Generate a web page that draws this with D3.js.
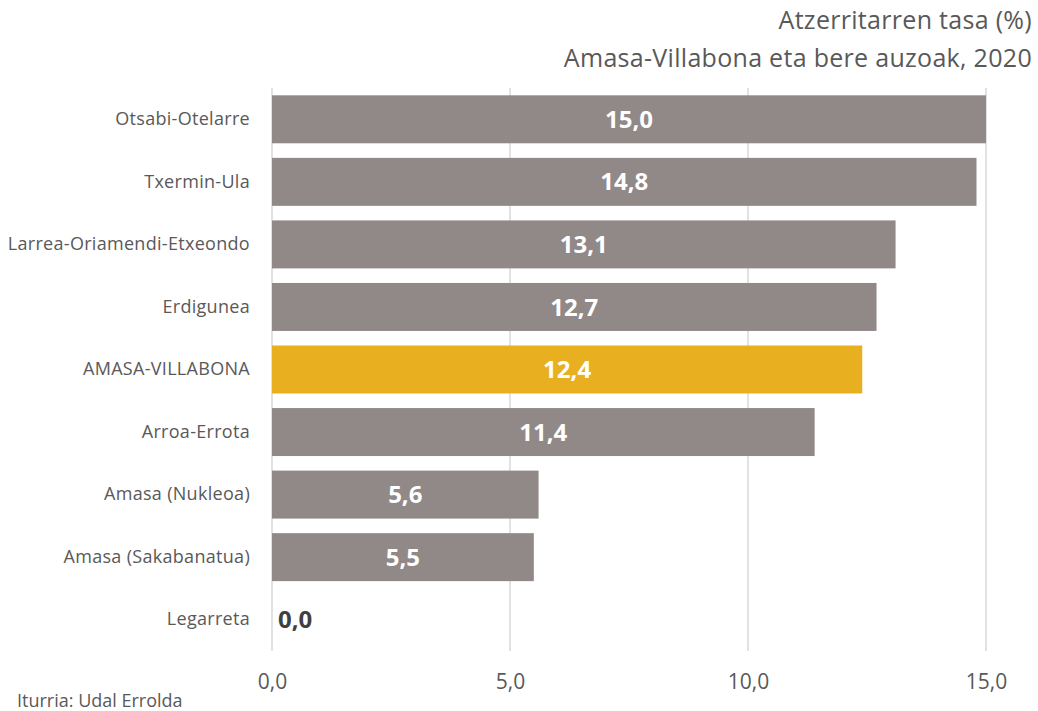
<!DOCTYPE html>
<html>
<head>
<meta charset="utf-8">
<script src="https://cdn.jsdelivr.net/npm/d3@7"></script>
<style>
  body { margin: 0; background: #fff; }
  text { font-family: "Open Sans", "DejaVu Sans", sans-serif; }
</style>
</head>
<body>
<div id="chart"></div>
<script>
// data
var categories = ["Otsabi-Otelarre", "Txermin-Ula", "Larrea-Oriamendi-Etxeondo", "Erdigunea",
                  "AMASA-VILLABONA", "Arroa-Errota", "Amasa (Nukleoa)", "Amasa (Sakabanatua)", "Legarreta"];
var values = [15.0, 14.8, 13.1, 12.7, 12.4, 11.4, 5.6, 5.5, 0.0];
var highlight = "AMASA-VILLABONA";
var xTicks = [0, 5, 10, 15];
var titleLines = ["Atzerritarren tasa (%)", "Amasa-Villabona eta bere auzoak, 2020"];
var source = "Iturria: Udal Errolda";

var W = 1038, H = 711;
var fmt = function(v) { return v.toFixed(1).replace(".", ","); };

var svg = d3.select("#chart").append("svg")
  .attr("width", W)
  .attr("height", H);

// scales
var x = d3.scaleLinear().domain([0, 15]).range([272, 986]);
var y = d3.scaleBand().domain(categories).range([88, 651])
  .paddingInner(0.233).paddingOuter(0.117);

// title
svg.selectAll(".title")
  .data(titleLines)
  .enter().append("text")
    .attr("x", 1032)
    .attr("y", function(d, i) { return 29 + i * 38; })
    .attr("text-anchor", "end")
    .style("font-size", "25px")
    .style("letter-spacing", "0.3px")
    .style("fill", "#595959")
    .text(function(d) { return d; });

// gridlines
svg.append("g")
  .selectAll("line")
  .data(xTicks)
  .enter().append("line")
    .attr("x1", function(d) { return x(d); })
    .attr("x2", function(d) { return x(d); })
    .attr("y1", 88)
    .attr("y2", 651)
    .style("stroke", "#d9d9d9")
    .style("stroke-width", 1.5);

// x axis labels
var xAxis = svg.append("g")
  .attr("transform", "translate(0,651)")
  .call(d3.axisBottom(x).tickValues(xTicks).tickFormat(fmt).tickSize(0).tickPadding(23));
xAxis.select(".domain").remove();
xAxis.selectAll("text")
  .style("font-size", "21px")
  .style("fill", "#595959")
  .style("font-family", "'Open Sans', sans-serif");

// category labels
var yAxis = svg.append("g")
  .attr("transform", "translate(272,0)")
  .call(d3.axisLeft(y).tickSize(0).tickPadding(22));
yAxis.select(".domain").remove();
yAxis.selectAll("text")
  .style("font-size", "18px")
  .style("letter-spacing", "0.3px")
  .style("fill", "#595959")
  .style("font-family", "'Open Sans', sans-serif");

// bars
svg.append("g")
  .selectAll("rect")
  .data(values)
  .enter().append("rect")
    .attr("x", x(0))
    .attr("y", function(d, i) { return y(categories[i]); })
    .attr("width", function(d) { return x(d) - x(0); })
    .attr("height", y.bandwidth())
    .style("fill", function(d, i) { return categories[i] === highlight ? "#e8b020" : "#918888"; });

// value labels
svg.append("g")
  .selectAll("text")
  .data(values)
  .enter().append("text")
    .attr("x", function(d) { return d > 0 ? (x(0) + x(d)) / 2 : x(0) + 6; })
    .attr("y", function(d, i) { return y(categories[i]) + y.bandwidth() / 2; })
    .attr("dy", "0.36em")
    .attr("text-anchor", function(d) { return d > 0 ? "middle" : "start"; })
    .style("font-size", "24px")
    .style("font-weight", "bold")
    .style("fill", function(d) { return d > 0 ? "#ffffff" : "#404040"; })
    .text(fmt);

// source
svg.append("text")
  .attr("x", 17)
  .attr("y", 707)
  .style("font-size", "18px")
  .style("fill", "#595959")
  .text(source);
</script>
</body>
</html>
